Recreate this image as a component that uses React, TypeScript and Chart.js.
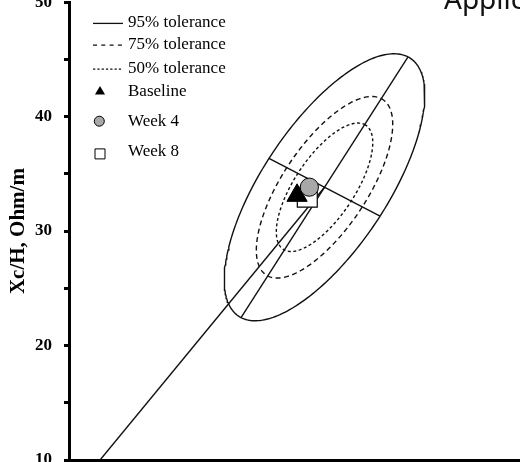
import React, { useEffect, useRef } from 'react';
import { Chart, registerables } from 'chart.js';

Chart.register(...registerables);

// Y axis: Xc/H (Ohm/m)
const yMin = 10;
const yMax = 50;
const yStep = 5;
const yLabelEvery = 10;
const yTitle = 'Xc/H, Ohm/m';

// X axis: R/H (Ohm/m); its labels fall below the visible strip
const xMin = 100;
const xMax = 500;

// Reference tolerance ellipses, in (R/H, Xc/H)
const toleranceLabels = ['95% tolerance', '75% tolerance', '50% tolerance'];
const toleranceScale = [1, 0.68, 0.481];
const ellipseCentre = [322.2, 33.83];
const majorSemiAxis = [72.6, 11.39];
const minorSemiAxis = [48.3, -2.52];

// Start of the mean-vector line
const vectorStart = [127, 10];

// Follow-up visits
const visitLabels = ['Baseline', 'Week 4', 'Week 8'];
const visitRH = [298.3, 309.0, 307.2];
const visitXcH = [33.11, 33.84, 32.96];

const SERIF = '"Liberation Serif", "Times New Roman", serif';
const INK = '#111';
const dashes: number[][] = [[], [5, 3.5], [3, 2.5]];

function ellipsePoints(k: number) {
  const pts: { x: number; y: number }[] = [];
  const n = 240;
  for (let i = 0; i <= n; i++) {
    const t = (i / n) * Math.PI * 2;
    const c = Math.cos(t);
    const s = Math.sin(t);
    pts.push({
      x: ellipseCentre[0] + k * (majorSemiAxis[0] * c + minorSemiAxis[0] * s),
      y: ellipseCentre[1] + k * (majorSemiAxis[1] * c + minorSemiAxis[1] * s),
    });
  }
  return pts;
}

function axisSegment(v: number[]) {
  return [
    { x: ellipseCentre[0] - v[0], y: ellipseCentre[1] - v[1] },
    { x: ellipseCentre[0] + v[0], y: ellipseCentre[1] + v[1] },
  ];
}

// Hand-drawn legend in the upper-left corner of the plot
const legendPlugin = {
  id: 'cornerLegend',
  afterDraw(chart: any) {
    const { ctx, chartArea } = chart;
    const L = chartArea.left;
    const T = chartArea.top;
    const rows = [25, 46.7, 70.7, 93.3, 123.3, 153.3];
    const names = [...toleranceLabels, ...visitLabels];
    const legendDashes: number[][] = [[], [4, 4.3], [2.3, 2]];
    ctx.save();
    ctx.fillStyle = '#000';
    ctx.font = `17px ${SERIF}`;
    ctx.textAlign = 'left';
    ctx.textBaseline = 'alphabetic';
    names.forEach((name, i) => ctx.fillText(name, L + 59, T + rows[i]));

    ctx.strokeStyle = INK;
    ctx.lineWidth = 1.3;
    for (let i = 0; i < 3; i++) {
      ctx.setLineDash(legendDashes[i]);
      ctx.beginPath();
      const y = T + rows[i] - 3.8;
      ctx.moveTo(L + 24, y);
      ctx.lineTo(L + 54, y);
      ctx.stroke();
    }
    ctx.setLineDash([]);

    // triangle
    const r = 5.8;
    const tx = L + 31;
    const ty = T + 89.5;
    ctx.beginPath();
    ctx.moveTo(tx, ty - r);
    ctx.lineTo(tx + r * 0.866, ty + r / 2);
    ctx.lineTo(tx - r * 0.866, ty + r / 2);
    ctx.closePath();
    ctx.fillStyle = '#000';
    ctx.fill();

    // circle
    ctx.beginPath();
    ctx.arc(L + 30.3, T + 119, 5, 0, Math.PI * 2);
    ctx.fillStyle = '#a8a8a8';
    ctx.fill();
    ctx.lineWidth = 1;
    ctx.strokeStyle = '#000';
    ctx.stroke();

    // square
    ctx.beginPath();
    ctx.rect(L + 26, T + 146.7, 10, 10);
    ctx.fillStyle = '#fff';
    ctx.fill();
    ctx.stroke();
    ctx.restore();
  },
};

export default function App() {
  const canvasRef = useRef<HTMLCanvasElement | null>(null);

  useEffect(() => {
    const canvas = canvasRef.current;
    if (!canvas) return;

    const lineBase = {
      showLine: true,
      borderColor: INK,
      borderWidth: 1.4,
      pointRadius: 0,
      pointHoverRadius: 0,
      fill: false,
      tension: 0,
      order: 10,
    };

    const datasets: any[] = [
      ...toleranceLabels.map((label, i) => ({
        ...lineBase,
        label,
        data: ellipsePoints(toleranceScale[i]),
        borderDash: dashes[i],
      })),
      { ...lineBase, label: 'major axis', data: axisSegment(majorSemiAxis) },
      { ...lineBase, label: 'minor axis', data: axisSegment(minorSemiAxis) },
      {
        ...lineBase,
        label: 'mean vector',
        data: [
          { x: vectorStart[0], y: vectorStart[1] },
          { x: ellipseCentre[0], y: ellipseCentre[1] },
        ],
      },
      {
        label: visitLabels[0],
        data: [{ x: visitRH[0], y: visitXcH[0] }],
        pointStyle: 'triangle',
        pointRadius: 11.7,
        pointHoverRadius: 11.7,
        backgroundColor: '#000',
        borderColor: '#000',
        borderWidth: 1,
        order: 2,
      },
      {
        label: visitLabels[1],
        data: [{ x: visitRH[1], y: visitXcH[1] }],
        pointStyle: 'circle',
        pointRadius: 9.1,
        pointHoverRadius: 9.1,
        backgroundColor: '#a8a8a8',
        borderColor: '#000',
        borderWidth: 1,
        order: 1,
      },
      {
        label: visitLabels[2],
        data: [{ x: visitRH[2], y: visitXcH[2] }],
        pointStyle: 'rect',
        pointRadius: 14.1,
        pointHoverRadius: 14.1,
        backgroundColor: '#fff',
        borderColor: '#000',
        borderWidth: 1.2,
        order: 3,
      },
    ];

    const chart = new Chart(canvas, {
      type: 'scatter',
      data: { datasets },
      options: {
        animation: false,
        responsive: false,
        events: [],
        layout: { padding: { top: 20, right: 31, left: 0, bottom: 0 } },
        plugins: {
          legend: { display: false },
          tooltip: { enabled: false },
        },
        scales: {
          x: {
            type: 'linear',
            min: xMin,
            max: xMax,
            grid: { display: false },
            ticks: { display: false },
            border: { display: true, width: 3, color: '#000' },
            afterFit: (s: any) => {
              s.height = 40;
            },
          },
          y: {
            type: 'linear',
            min: yMin,
            max: yMax,
            grid: {
              display: true,
              drawOnChartArea: false,
              drawTicks: true,
              tickLength: 5,
              tickWidth: 3,
              tickColor: '#000',
            },
            border: { display: true, width: 3, color: '#000' },
            ticks: {
              stepSize: yStep,
              autoSkip: false,
              padding: 12,
              color: '#000',
              font: { family: SERIF, size: 17, weight: 'bold' },
              callback: (v: any) => (Number(v) % yLabelEvery === 0 ? String(v) : ''),
            },
            title: {
              display: true,
              text: yTitle,
              color: '#000',
              font: { family: SERIF, size: 21, weight: 'bold' },
              padding: { top: 6.4, bottom: 0 },
            },
            afterFit: (s: any) => {
              s.width = 69;
            },
          },
        },
      } as any,
      plugins: [legendPlugin],
    });

    return () => chart.destroy();
  }, []);

  return (
    <div
      style={{
        position: 'fixed',
        left: 0,
        top: 0,
        width: 520,
        height: 462,
        overflow: 'hidden',
        background: '#fff',
      }}
    >
      <canvas
        ref={canvasRef}
        width={560}
        height={520}
        style={{ position: 'absolute', left: 0, top: -20 }}
      />
      <div
        style={{
          position: 'absolute',
          left: 444,
          top: -16,
          fontFamily: '"Noto Sans", "Open Sans", sans-serif',
          fontSize: 28,
          lineHeight: '28px',
          whiteSpace: 'nowrap',
          color: '#111',
        }}
      >
        Applications
      </div>
    </div>
  );
}
